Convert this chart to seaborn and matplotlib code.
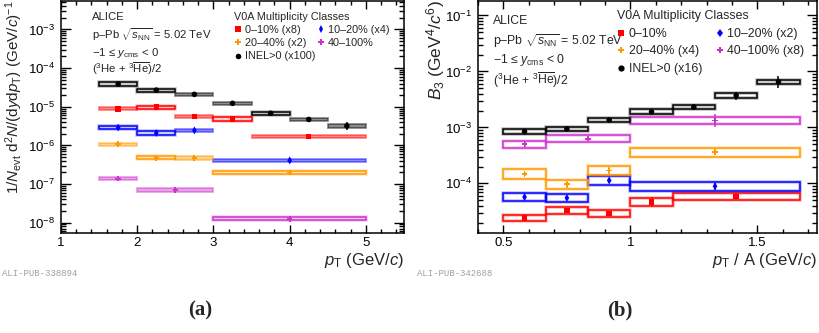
import numpy as np
import pandas as pd
import matplotlib
matplotlib.use("Agg")
import matplotlib.pyplot as plt
from matplotlib.patches import Rectangle
from matplotlib.lines import Line2D
from matplotlib.ticker import LogLocator, MultipleLocator, NullFormatter, FuncFormatter
import seaborn as sns

# ---------------- data ----------------
classes = ["0-10%", "10-20%", "20-40%", "40-100%", "INEL>0"]
labels_a = ["0–10% (x8)", "10–20% (x4)", "20–40% (x2)", "40–100%", "INEL>0 (x100)"]
labels_b = ["0–10%", "10–20% (x2)", "20–40% (x4)", "40–100% (x8)", "INEL>0 (x16)"]

# Panel (a): pT spectra (scaled)
a_cls = (["0-10%"] * 5 + ["10-20%"] * 4 + ["20-40%"] * 4 + ["40-100%"] * 3 + ["INEL>0"] * 7)
a_lo = [1.5, 2.0, 2.5, 3.0, 3.5,
        1.5, 2.0, 2.5, 3.0,
        1.5, 2.0, 2.5, 3.0,
        1.5, 2.0, 3.0,
        1.5, 2.0, 2.5, 3.0, 3.5, 4.0, 4.5]
a_hi = [2.0, 2.5, 3.0, 3.5, 5.0,
        2.0, 2.5, 3.0, 5.0,
        2.0, 2.5, 3.0, 5.0,
        2.0, 3.0, 5.0,
        2.0, 2.5, 3.0, 3.5, 4.0, 4.5, 5.0]
a_y = [8.9e-6, 9.8e-6, 5.6e-6, 4.8e-6, 1.7e-6,
       2.9e-6, 2.1e-6, 2.45e-6, 4.1e-7,
       1.08e-6, 4.8e-7, 4.7e-7, 2.0e-7,
       1.38e-7, 7.0e-8, 1.26e-8,
       3.9e-5, 2.7e-5, 2.1e-5, 1.23e-5, 6.8e-6, 4.7e-6, 3.2e-6]
a_stat = [0.05, 0.05, 0.07, 0.10, 0.12,
          0.08, 0.10, 0.10, 0.14,
          0.06, 0.10, 0.10, 0.10,
          0.08, 0.10, 0.20,
          0.03, 0.03, 0.04, 0.06, 0.10, 0.17, 0.25]
a_sys = [0.10] * 23

# Panel (b): coalescence parameter B3 (scaled)
b_cls = (["0-10%"] * 5 + ["10-20%"] * 4 + ["20-40%"] * 4 + ["40-100%"] * 3 + ["INEL>0"] * 7)
b_lo = [0.5, 0.6667, 0.8333, 1.0, 1.1667,
        0.5, 0.6667, 0.8333, 1.0,
        0.5, 0.6667, 0.8333, 1.0,
        0.5, 0.6667, 1.0,
        0.5, 0.6667, 0.8333, 1.0, 1.1667, 1.3333, 1.5]
b_hi = [0.6667, 0.8333, 1.0, 1.1667, 1.6667,
        0.6667, 0.8333, 1.0, 1.6667,
        0.6667, 0.8333, 1.0, 1.6667,
        0.6667, 1.0, 1.6667,
        0.6667, 0.8333, 1.0, 1.1667, 1.3333, 1.5, 1.6667]
b_y = [2.4e-5, 3.3e-5, 2.9e-5, 4.7e-5, 5.8e-5,
       5.7e-5, 5.5e-5, 1.13e-4, 8.9e-5,
       1.47e-4, 9.6e-5, 1.7e-4, 3.6e-4,
       5.0e-4, 6.3e-4, 1.33e-3,
       8.45e-4, 9.4e-4, 1.36e-3, 1.9e-3, 2.3e-3, 3.7e-3, 6.5e-3]
b_stat = [0.10, 0.10, 0.10, 0.22, 0.15,
          0.10, 0.10, 0.12, 0.15,
          0.10, 0.15, 0.15, 0.12,
          0.12, 0.10, 0.30,
          0.04, 0.04, 0.05, 0.07, 0.12, 0.18, 0.30]
b_sys = [0.15, 0.16, 0.16, 0.17, 0.15,
         0.19, 0.19, 0.20, 0.20,
         0.22, 0.20, 0.20, 0.20,
         0.15, 0.15, 0.16,
         0.10, 0.10, 0.10, 0.10, 0.10, 0.10, 0.10]

# ---------------- style ----------------
colors = {"0-10%": "#ff0000", "10-20%": "#0000ff", "20-40%": "#ff9900",
          "40-100%": "#cc33cc", "INEL>0": "#000000"}
markers = {"0-10%": "s", "10-20%": "d", "20-40%": "P", "40-100%": "P", "INEL>0": "o"}
a_filled = [True, False, True, False, True,
            False, False, True, True,
            True, False, True, False,
            True, True, False,
            False, False, True, True, False, True, True]

sns.set_theme(style="ticks")
plt.rcParams["font.family"] = ["Liberation Sans", "DejaVu Sans"]
plt.rcParams["mathtext.fontset"] = "custom"
plt.rcParams["mathtext.rm"] = "Liberation Sans"
plt.rcParams["mathtext.it"] = "Liberation Sans:italic"
plt.rcParams["mathtext.bf"] = "Liberation Sans:bold"
plt.rcParams["mathtext.sf"] = "Liberation Sans"
plt.rcParams["axes.linewidth"] = 1.1

W, H = 819, 333
fig = plt.figure(figsize=(W / 100, H / 100), dpi=100)


def px_axes(l, t, r, b):
    return fig.add_axes([l / W, 1 - b / H, (r - l) / W, (b - t) / H])


axA = px_axes(61, 0.5, 404, 233)
axB = px_axes(478, 0.5, 817, 233)


def draw_panel(ax, cls, lo, hi, y, stat, sys, filled):
    df = pd.DataFrame({"cls": cls, "lo": lo, "hi": hi, "y": y, "stat": stat, "sys": sys})
    df["x"] = (df["lo"] + df["hi"]) / 2
    for i, r in df.iterrows():
        c = colors[r.cls]
        ylo = r.y / (1 + r.sys)
        yhi = r.y * (1 + r.sys)
        if filled is not None and filled[i]:
            ax.add_patch(Rectangle((r.lo, ylo), r.hi - r.lo, yhi - ylo,
                                   facecolor=c, alpha=0.45, edgecolor=c, lw=1.3, zorder=2))
        else:
            ax.add_patch(Rectangle((r.lo, ylo), r.hi - r.lo, yhi - ylo,
                                   facecolor="none", edgecolor=c, lw=2.6, alpha=0.25, zorder=2))
            ax.add_patch(Rectangle((r.lo, ylo), r.hi - r.lo, yhi - ylo,
                                   facecolor="none", edgecolor=c, lw=1.1, zorder=2))
    for k in classes:
        d = df[df.cls == k]
        ax.errorbar(d.x, d.y, yerr=[d.y * d.stat / (1 + d.stat), d.y * d.stat],
                    fmt="none", ecolor=colors[k], elinewidth=1.1, capsize=0, zorder=3)
    sns.scatterplot(data=df, x="x", y="y", hue="cls", style="cls", palette=colors,
                    markers=markers, s=16, linewidth=0, legend=False, ax=ax, zorder=4)
    ax.set_yscale("log")


draw_panel(axA, a_cls, a_lo, a_hi, a_y, a_stat, a_sys, a_filled)
draw_panel(axB, b_cls, b_lo, b_hi, b_y, b_stat, b_sys, None)

axA.set_xlim(1, 5.5)
axA.set_ylim(10 ** -8.266, 10 ** -2.25)
axB.set_xlim(0.40, 1.735)
axB.set_ylim(10 ** -4.886, 10 ** -0.733)

axA.xaxis.set_major_locator(MultipleLocator(1))
axA.xaxis.set_minor_locator(MultipleLocator(0.2))
axB.xaxis.set_major_locator(MultipleLocator(0.5))
axB.xaxis.set_minor_locator(MultipleLocator(0.1))
for ax in (axA, axB):
    ax.xaxis.set_major_formatter(FuncFormatter(lambda v, p: "%g" % v))
    ax.yaxis.set_major_locator(LogLocator(base=10, numticks=20))
    ax.yaxis.set_minor_locator(LogLocator(base=10, subs=np.arange(2, 10), numticks=20))
    ax.yaxis.set_minor_formatter(NullFormatter())
    ax.tick_params(which="both", direction="in", top=True, right=True, width=1.0,
                   labelsize=9.5, colors="black")
    ax.tick_params(axis="x", which="major", length=5.5, pad=3)
    ax.tick_params(axis="x", which="minor", length=2.8)
    ax.tick_params(axis="y", which="major", length=7, pad=4)
    ax.tick_params(axis="y", which="minor", length=3.5)
    for s in ax.spines.values():
        s.set_visible(True)
        s.set_color("black")
    ax.set_facecolor("white")

axA.set_xlabel(r"$p_{\rm T}$ (GeV/$c$)", loc="right", fontsize=12, labelpad=1)
axB.set_xlabel(r"$p_{\rm T}$ / A (GeV/$c$)", loc="right", fontsize=12, labelpad=1)
axA.set_ylabel(r"$1/N_{\rm evt}\ {\rm d}^{2}N/({\rm d}y{\rm d}p_{\rm T})\ ({\rm GeV}/c)^{-1}$",
               loc="top", fontsize=11)
axA.yaxis.set_label_coords(-0.106, 1.0)
axB.set_ylabel(r"$B_{3}\ ({\rm GeV}^{4}/c^{6})$", loc="top", fontsize=12.5)
axB.yaxis.set_label_coords(-0.09, 1.0)

# annotations
def annot(ax, x, ys, fs):
    lines = ["ALICE",
             r"p–Pb $\sqrt{s_{\rm NN}}$ = 5.02 TeV",
             r"−1 ≤ $y_{\rm cms}$ < 0",
             r"($^{3}$He + $^{3}\overline{\rm He}$)/2"]
    for t, yy in zip(lines, ys):
        ax.text(x, yy, t, transform=ax.transAxes, ha="left", va="center", fontsize=fs)


annot(axA, 0.09, [0.927, 0.852, 0.775, 0.705], 8.2)
annot(axB, 0.044, [0.912, 0.825, 0.742, 0.655], 8.8)


def make_legend(ax, labels, anchor, fs, colsp, lsp, msize):
    order = [0, 2, 4, 1, 3]
    handles = [Line2D([], [], ls="none", marker=markers[classes[i]], color=colors[classes[i]],
                      markersize=msize, markeredgewidth=0) for i in order]
    leg = ax.legend(handles, [labels[i] for i in order], ncol=2, loc="upper left",
                    bbox_to_anchor=anchor, frameon=False, fontsize=fs,
                    title="V0A Multiplicity Classes", title_fontsize=fs, alignment="left",
                    handlelength=0.7, handletextpad=0.25, columnspacing=colsp,
                    labelspacing=lsp, borderpad=0, borderaxespad=0)
    return leg


make_legend(axA, labels_a, (0.505, 0.952), 7.8, 0.25, 0.3, 4)
make_legend(axB, labels_b, (0.41, 0.958), 8.9, 1.1, 0.45, 4.5)

# captions and figure ids
fig.text(200 / W, 1 - 310 / H, "(a)", ha="center", va="center", fontsize=15,
         fontweight="bold", family="Liberation Serif")
fig.text(620 / W, 1 - 310 / H, "(b)", ha="center", va="center", fontsize=15,
         fontweight="bold", family="Liberation Serif")
fig.text(2 / W, 1 - 274 / H, "ALI-PUB-338894", ha="left", va="center", fontsize=6.5,
         color="#a0a0a0", family="Liberation Mono")
fig.text(417 / W, 1 - 274 / H, "ALI-PUB-342688", ha="left", va="center", fontsize=6.5,
         color="#a0a0a0", family="Liberation Mono")

fig.savefig("out.png", dpi=100, facecolor="white")
